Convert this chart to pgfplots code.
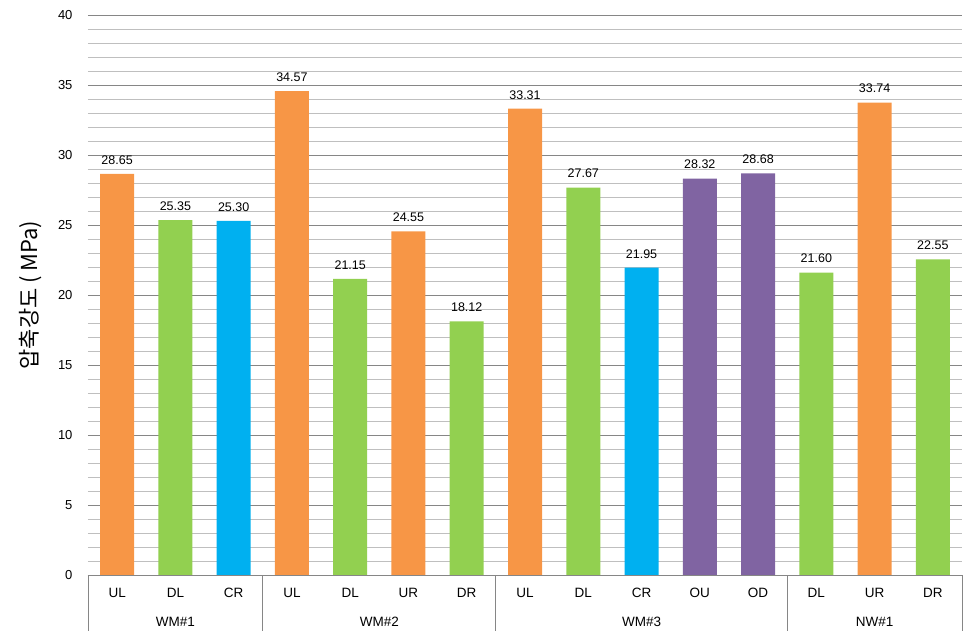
\documentclass[border=0pt]{standalone}
\usepackage{fontspec}
\setmainfont{Liberation Sans}
\newfontfamily\kr{Noto Sans CJK KR}
\usepackage{pgfplots}
\pgfplotsset{compat=1.18}
\definecolor{cOr}{HTML}{F79646}
\definecolor{cGr}{HTML}{92D050}
\definecolor{cBl}{HTML}{00B0F0}
\definecolor{cPu}{HTML}{8064A2}
\definecolor{gMaj}{HTML}{868686}
\definecolor{gMin}{HTML}{BFBFBF}
\begin{document}
\begin{tikzpicture}
\begin{axis}[
  at={(0pt,0pt)}, anchor=south west,
  scale only axis, width=874pt, height=560pt,
  xmin=-0.5, xmax=14.5, ymin=0, ymax=40,
  ytick={0,5,...,40}, minor y tick num=4,
  ymajorgrids, yminorgrids,
  major grid style={draw=gMaj, line width=0.8pt},
  minor grid style={draw=gMin, line width=0.8pt},
  axis line style={draw=none}, tick style={draw=none},
  xtick={0,...,14},
  xticklabels={UL,DL,CR,UL,DL,UR,DR,UL,DL,CR,OU,OD,DL,UR,DR},
  xticklabel style={font=\fontsize{13.5}{15}\selectfont, yshift=-10pt},
  yticklabel style={font=\fontsize{13}{15}\selectfont, xshift=-12pt},
  /pgf/number format/assume math mode=true,
  ylabel={\kr 압축강도 ( MPa)},
  ylabel style={font=\fontsize{22}{26}\selectfont, at={(axis description cs:-0.066,0.5)}, anchor=center},
  every axis plot/.append style={ybar, bar width=34pt, bar shift=0pt, draw=none},
  nodes near coords={\pgfmathprintnumber[fixed,fixed zerofill,precision=2,assume math mode=true]{\pgfplotspointmeta}},
  nodes near coords style={font=\fontsize{12.5}{14}\selectfont, yshift=6pt, text=black},
  clip=false,
]
\addplot[fill=cOr] coordinates {(0,28.65) (3,34.57) (5,24.55) (7,33.31) (13,33.74)};
\addplot[fill=cGr] coordinates {(1,25.35) (4,21.15) (6,18.12) (8,27.67) (12,21.60) (14,22.55)};
\addplot[fill=cBl] coordinates {(2,25.30) (9,21.95)};
\addplot[fill=cPu] coordinates {(10,28.32) (11,28.68)};
\pgfplotsinvokeforeach{-0.5,2.5,6.5,11.5,14.5}{
  \draw[gMaj, line width=0.8pt] (axis cs:#1,0) -- ++(0pt,-56pt);
}
\draw[gMaj, line width=0.8pt] (axis cs:-0.5,0) -- (axis cs:14.5,0);
\node[font=\fontsize{13.5}{15}\selectfont] at ([yshift=-47pt]axis cs:1,0) {WM\#1};
\node[font=\fontsize{13.5}{15}\selectfont] at ([yshift=-47pt]axis cs:4.5,0) {WM\#2};
\node[font=\fontsize{13.5}{15}\selectfont] at ([yshift=-47pt]axis cs:9,0) {WM\#3};
\node[font=\fontsize{13.5}{15}\selectfont] at ([yshift=-47pt]axis cs:13,0) {NW\#1};
\end{axis}
\pgfresetboundingbox
\path[use as bounding box] (-88pt,-63pt) rectangle (889pt,575pt);
\end{tikzpicture}
\end{document}
